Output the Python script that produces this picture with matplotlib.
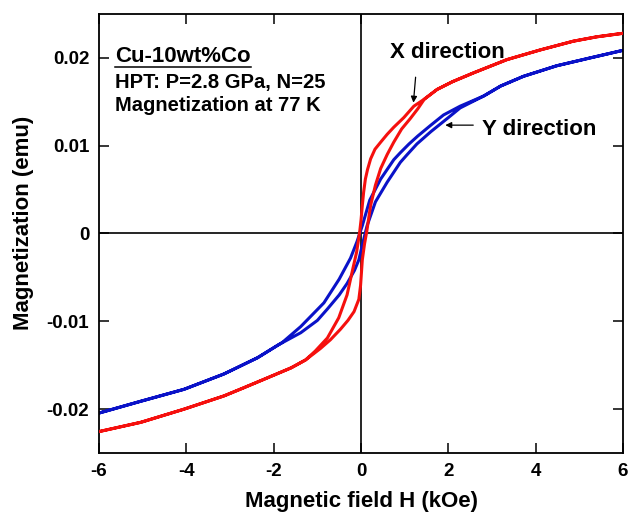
import numpy as np
import matplotlib
matplotlib.use("Agg")
import matplotlib.pyplot as plt
from matplotlib.lines import Line2D

plt.rcParams['font.family'] = ['Liberation Sans', 'DejaVu Sans']
plt.rcParams['font.weight'] = 'bold'
plt.rcParams['axes.unicode_minus'] = False

# X direction (red): descending branch (+6 -> -6) and ascending branch (-6 -> +6)
hx_down = [6.0, 5.4, 4.86, 4.1, 3.34, 2.58, 2.1, 1.74, 1.45, 1.21, 0.98, 0.75, 0.6,
           0.45, 0.32, 0.22, 0.15, 0.10, 0.06, 0.03, 0.0, -0.03, -0.10, -0.20, -0.32,
           -0.51, -0.77, -1.05, -1.27, -1.6, -2.22, -2.7, -3.14, -4.05, -5.04, -6.0]
mx_down = [0.0228, 0.0224, 0.0219, 0.0209, 0.0198, 0.0183, 0.0173, 0.0164, 0.0153,
           0.0145, 0.0132, 0.0121, 0.0113, 0.0104, 0.0096, 0.0085, 0.0073, 0.0062,
           0.0047, 0.0032, 0.0015, 0.0002, -0.0021, -0.0043, -0.0070, -0.0096,
           -0.0119, -0.0134, -0.0144, -0.0153, -0.0166, -0.0176, -0.0185, -0.0200,
           -0.0215, -0.02256]
hx_up = [-6.0, -5.04, -4.05, -3.14, -2.7, -2.22, -1.6, -1.27, -0.93, -0.7, -0.47,
         -0.30, -0.16, -0.05, -0.01, 0.03, 0.08, 0.13, 0.22, 0.33, 0.45, 0.6, 0.75,
         0.93, 1.13, 1.3, 1.45, 1.74, 2.1, 2.58, 3.34, 4.1, 4.86, 5.4, 6.0]
mx_up = [-0.02256, -0.0215, -0.0200, -0.0185, -0.0176, -0.0166, -0.0153, -0.0144,
         -0.0131, -0.0121, -0.0109, -0.0099, -0.0089, -0.0075, -0.0059, -0.0030,
         -0.0012, 0.0002, 0.0032, 0.0055, 0.0074, 0.0090, 0.0104, 0.0119, 0.0131,
         0.0142, 0.0153, 0.0164, 0.0173, 0.0183, 0.0198, 0.0209, 0.0219, 0.0224,
         0.0228]

# Y direction (blue)
hy_down = [6.0, 5.25, 4.48, 3.72, 3.2, 2.81, 2.27, 1.89, 1.59, 1.3, 1.1, 0.9, 0.75,
           0.45, 0.2, 0.03, -0.09, -0.24, -0.5, -0.85, -1.38, -1.8, -2.37, -3.14,
           -4.05, -5.04, -6.0]
my_down = [0.02086, 0.0200, 0.0191, 0.0179, 0.0168, 0.01566, 0.0145, 0.0135, 0.0123,
           0.0111, 0.0102, 0.0092, 0.0084, 0.0062, 0.0038, 0.0009, -0.0009, -0.0028,
           -0.0052, -0.0079, -0.0106, -0.0124, -0.01415, -0.0160, -0.01774, -0.0191,
           -0.02045]
hy_up = [-6.0, -5.04, -4.05, -3.14, -2.37, -1.9, -1.38, -1.0, -0.77, -0.5, -0.32,
         -0.15, -0.05, 0.05, 0.14, 0.33, 0.6, 0.9, 1.06, 1.28, 1.6, 2.0, 2.27, 2.81,
         3.2, 3.72, 4.48, 5.25, 6.0]
my_up = [-0.02045, -0.0191, -0.01774, -0.0160, -0.01415, -0.0127, -0.0113, -0.0099,
         -0.0086, -0.0070, -0.0057, -0.0042, -0.0030, -0.0009, 0.0009, 0.0036,
         0.00585, 0.0081, 0.0090, 0.0102, 0.0116, 0.0132, 0.0143, 0.01566, 0.0168,
         0.0179, 0.0191, 0.0200, 0.02086]

xticks = [-6, -4, -2, 0, 2, 4, 6]
xtick_labels = ['-6', '-4', '-2', '0', '2', '4', '6']
yticks = [-0.02, -0.01, 0, 0.01, 0.02]
ytick_labels = ['-0.02', '-0.01', '0', '0.01', '0.02']

fig = plt.figure(figsize=(6.29, 5.12), dpi=100)
ax = fig.add_axes([0.1574, 0.1152, 0.8331, 0.8575])

ax.axhline(0, color='black', lw=1.2, zorder=1)
ax.axvline(0, color='black', lw=1.2, zorder=1)

blue = '#0a12c8'
red = '#f5100e'
ax.plot(hy_down + hy_up, my_down + my_up, color=blue, lw=2.2, zorder=2)
ax.plot(hx_down + hx_up, mx_down + mx_up, color=red, lw=2.2, zorder=3)

ax.set_xlim(-6, 6)
ax.set_ylim(-0.025, 0.025)
ax.set_xticks(xticks)
ax.set_xticklabels(xtick_labels)
ax.set_yticks(yticks)
ax.set_yticklabels(ytick_labels)
ax.tick_params(direction='in', length=7, width=1.1, top=True, right=True,
               labelsize=13.5, pad=7)
for s in ax.spines.values():
    s.set_linewidth(1.3)

ax.set_xlabel('Magnetic field H (kOe)', fontsize=16, fontweight='bold', labelpad=8)
ax.set_ylabel('Magnetization (emu)', fontsize=16, fontweight='bold', labelpad=8)
ax.yaxis.set_label_coords(-0.125, 0.525)

t1 = ax.text(-5.63, 0.0195, 'Cu-10wt%Co', fontsize=16, fontweight='bold', va='baseline')
ax.text(-5.63, 0.0166, 'HPT: P=2.8 GPa, N=25', fontsize=14.5, fontweight='bold', va='baseline')
ax.text(-5.63, 0.0139, 'Magnetization at 77 K', fontsize=14.5, fontweight='bold', va='baseline')

ax.text(1.98, 0.0206, 'X direction', fontsize=16, fontweight='bold', ha='center', va='center')
ax.text(2.78, 0.0118, 'Y direction', fontsize=16, fontweight='bold', ha='left', va='center')

arrow_style = dict(arrowstyle='-|>', color='black', lw=0.9, mutation_scale=9,
                   shrinkA=0, shrinkB=0)
ax.annotate('', xy=(1.2, 0.0149), xytext=(1.25, 0.0178), arrowprops=arrow_style)
ax.annotate('', xy=(1.93, 0.01234), xytext=(2.57, 0.01234), arrowprops=arrow_style)

# underline the sample name
fig.canvas.draw()
bb = t1.get_window_extent(renderer=fig.canvas.get_renderer())
inv = ax.transAxes.inverted()
(x0, y0), (x1, _) = inv.transform([(bb.x0, bb.y0), (bb.x1, bb.y0)])
ax.add_line(Line2D([x0, x1], [y0 + 0.001, y0 + 0.001], transform=ax.transAxes,
                   color='black', lw=1.1))

fig.savefig('out.png', dpi=100)
